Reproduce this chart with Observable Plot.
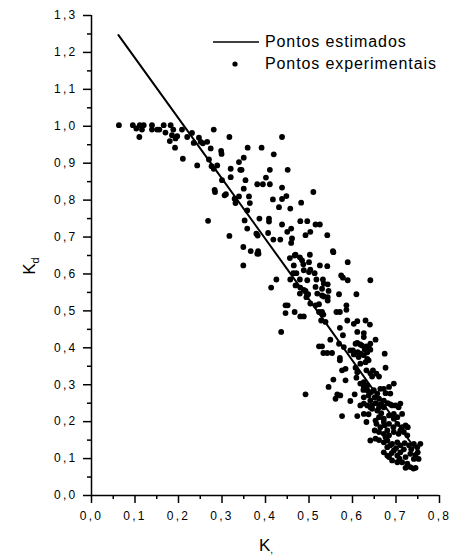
<!DOCTYPE html>
<html>
<head>
<meta charset="utf-8">
<script src="https://cdn.jsdelivr.net/npm/d3@7"></script>
<script src="https://cdn.jsdelivr.net/npm/@observablehq/plot@0.6"></script>
<style>
  body { margin: 0; background: #fff; }
  #chart svg g[aria-label$="tick label"] { letter-spacing: 2.3px; }
</style>
</head>
<body>
<div id="chart"></div>
<script>
// Tick values
const xTicks = [0, 0.1, 0.2, 0.3, 0.4, 0.5, 0.6, 0.7, 0.8];
const xMinor = [0.05, 0.15, 0.25, 0.35, 0.45, 0.55, 0.65, 0.75];
const yTicks = [0, 0.1, 0.2, 0.3, 0.4, 0.5, 0.6, 0.7, 0.8, 0.9, 1.0, 1.1, 1.2, 1.3];
const yMinor = [0.05, 0.15, 0.25, 0.35, 0.45, 0.55, 0.65, 0.75, 0.85, 0.95, 1.05, 1.15, 1.25];

// Series labels
const seriesNames = ["Pontos estimados", "Pontos experimentais"];

// Estimated points (line)
const estimatedX = [0.062, 0.30, 0.50, 0.742];
const estimatedY = [1.247, 0.858, 0.531, 0.130];

// Experimental points [Kr, Kd]
const experimental = [
[0.063,1.003],[0.095,1.003],[0.103,0.994],[0.111,1.003],[0.120,1.003],[0.110,0.971],[0.116,0.991],[0.139,1.003],[0.139,0.991],[0.151,0.991],[0.156,0.991],[0.166,1.003],[0.170,0.983],[0.182,1.003],[0.188,0.991],[0.185,0.976],[0.180,0.960],[0.193,0.967],[0.197,0.973],[0.192,0.942],[0.208,0.991],[0.220,0.971],[0.231,0.982],[0.235,0.955],[0.247,0.969],[0.251,0.958],[0.256,0.954],[0.266,0.958],[0.281,0.991],[0.274,0.940],[0.210,0.912],[0.243,0.894],[0.270,0.910],[0.276,0.892],[0.281,0.885],[0.289,0.894],[0.298,0.933],[0.299,0.925],[0.317,0.971],[0.359,0.942],[0.391,0.942],[0.419,0.924],[0.339,0.903],[0.350,0.915],[0.320,0.885],[0.342,0.882],[0.345,0.882],[0.410,0.882],[0.451,0.882],[0.320,0.862],[0.354,0.854],[0.401,0.861],[0.300,0.854],[0.381,0.843],[0.394,0.843],[0.410,0.843],[0.283,0.828],[0.284,0.822],[0.350,0.831],[0.306,0.813],[0.309,0.816],[0.329,0.804],[0.339,0.810],[0.331,0.792],[0.362,0.810],[0.364,0.792],[0.358,0.772],[0.417,0.802],[0.438,0.803],[0.431,0.781],[0.438,0.971],[0.438,0.834],[0.510,0.822],[0.448,0.811],[0.482,0.793],[0.457,0.777],[0.268,0.744],[0.352,0.745],[0.386,0.750],[0.408,0.750],[0.408,0.742],[0.358,0.723],[0.379,0.709],[0.317,0.703],[0.382,0.704],[0.406,0.711],[0.418,0.693],[0.349,0.673],[0.366,0.662],[0.383,0.662],[0.384,0.655],[0.349,0.623],[0.425,0.585],
[0.480,0.743],[0.496,0.743],[0.515,0.734],[0.525,0.734],[0.438,0.734],[0.459,0.723],[0.450,0.714],[0.503,0.714],[0.492,0.705],[0.434,0.693],[0.461,0.696],[0.459,0.684],[0.542,0.705],[0.555,0.662],[0.469,0.652],[0.456,0.643],[0.479,0.645],[0.484,0.637],[0.502,0.652],[0.589,0.632],[0.500,0.632],[0.525,0.623],[0.542,0.621],[0.465,0.623],[0.488,0.610],[0.503,0.612],[0.513,0.602],[0.471,0.602],[0.574,0.596],[0.578,0.590],[0.589,0.583],[0.641,0.583],[0.457,0.585],[0.479,0.585],[0.496,0.583],[0.517,0.585],[0.532,0.585],[0.534,0.574],[0.543,0.572],[0.480,0.563],[0.488,0.557],[0.515,0.565],[0.530,0.560],[0.413,0.563],[0.479,0.547],[0.494,0.537],[0.519,0.547],[0.534,0.539],[0.543,0.537],[0.569,0.545],[0.609,0.545],[0.381,0.655],[0.467,0.650],[0.556,0.659],[0.487,0.626],[0.464,0.602],[0.500,0.605],[0.469,0.569],[0.492,0.554],[0.545,0.554],[0.498,0.545],[0.530,0.542],[0.446,0.515],[0.451,0.515],[0.503,0.520],[0.515,0.515],[0.523,0.518],[0.543,0.528],[0.586,0.515],[0.586,0.503],[0.446,0.494],[0.467,0.497],[0.480,0.485],[0.488,0.485],[0.523,0.497],[0.530,0.497],[0.533,0.490],[0.563,0.497],[0.571,0.497],[0.528,0.474],[0.538,0.470],[0.588,0.474],[0.611,0.472],[0.630,0.474],[0.640,0.463],[0.603,0.465],[0.571,0.454],[0.436,0.443],[0.611,0.443],[0.626,0.440],[0.626,0.429],[0.578,0.434],[0.653,0.422],[0.549,0.422],[0.523,0.404],[0.530,0.404],[0.569,0.411],[0.580,0.402],[0.611,0.413],[0.622,0.406],[0.637,0.402],[0.607,0.411],[0.618,0.409],[0.632,0.404],[0.641,0.411],[0.533,0.386],[0.542,0.386],[0.553,0.386],[0.595,0.393],[0.601,0.393],[0.612,0.388],[0.618,0.384],[0.628,0.395],[0.634,0.388],[0.641,0.395],[0.674,0.384],[0.603,0.382],[0.614,0.375],[0.626,0.380],[0.634,0.370],[0.637,0.366],[0.571,0.373],[0.571,0.366],[0.584,0.343],[0.576,0.339],[0.607,0.346],[0.611,0.334],[0.618,0.357],[0.630,0.361],[0.632,0.339],[0.641,0.331],[0.647,0.339],[0.655,0.330],[0.661,0.322],[0.645,0.322],[0.676,0.346],[0.556,0.314],[0.584,0.312],[0.609,0.319],[0.618,0.303],[0.626,0.307],[0.634,0.298],[0.545,0.294],[0.695,0.303],[0.625,0.286],[0.634,0.285],[0.643,0.280],[0.649,0.285],[0.657,0.276],[0.664,0.289],[0.672,0.289],[0.676,0.277],[0.626,0.294],[0.684,0.294],[0.687,0.276],[0.492,0.274],[0.565,0.274],[0.561,0.262],[0.572,0.271],[0.605,0.274],[0.626,0.266],[0.637,0.271],[0.651,0.266],[0.661,0.262],[0.672,0.257],[0.641,0.257],[0.595,0.256],[0.626,0.249],[0.634,0.244],[0.641,0.239],[0.653,0.250],[0.664,0.247],[0.681,0.250],[0.687,0.247],[0.699,0.244],[0.706,0.239],[0.710,0.249],[0.618,0.244],[0.645,0.244],[0.661,0.239],[0.672,0.239],[0.691,0.244],
[0.576,0.215],[0.611,0.215],[0.637,0.220],[0.632,0.199],[0.657,0.230],[0.666,0.223],[0.661,0.212],[0.672,0.208],[0.684,0.217],[0.695,0.221],[0.703,0.212],[0.714,0.221],[0.626,0.221],[0.645,0.235],[0.653,0.203],[0.672,0.199],[0.695,0.208],[0.655,0.194],[0.664,0.185],[0.674,0.190],[0.684,0.194],[0.694,0.185],[0.703,0.194],[0.714,0.185],[0.722,0.190],[0.727,0.185],[0.651,0.176],[0.661,0.172],[0.672,0.167],[0.684,0.163],[0.695,0.172],[0.706,0.167],[0.718,0.172],[0.726,0.163],[0.680,0.176],[0.710,0.176],[0.661,0.150],[0.672,0.144],[0.680,0.149],[0.691,0.140],[0.703,0.144],[0.710,0.136],[0.720,0.142],[0.730,0.136],[0.741,0.140],[0.756,0.140],[0.749,0.131],[0.641,0.149],[0.653,0.154],[0.676,0.158],[0.695,0.122],[0.703,0.108],[0.710,0.117],[0.722,0.104],[0.733,0.113],[0.741,0.099],[0.750,0.117],[0.752,0.099],[0.684,0.104],[0.691,0.095],[0.703,0.090],[0.714,0.090],[0.726,0.086],[0.733,0.077],[0.745,0.075],[0.722,0.075],[0.740,0.073],[0.672,0.117],[0.680,0.131],[0.687,0.136],[0.680,0.108],[0.700,0.128],[0.718,0.125],[0.735,0.125],[0.745,0.110],[0.708,0.100],[0.690,0.115]
];

const estimated = estimatedX.map((x, i) => ({x, y: estimatedY[i]}));
const points = experimental.map(([x, y]) => ({x, y}));
const fmt = d => d.toFixed(1).replace(".", ",");
const FONT = "'Liberation Sans', Arial, Helvetica, sans-serif";

const chart = Plot.plot({
  width: 450,
  height: 557,
  marginLeft: 91,
  marginRight: 11,
  marginTop: 15,
  marginBottom: 62,
  style: {fontFamily: FONT, fontSize: "12px", color: "#000", background: "#fff"},
  x: {domain: [0, 0.8]},
  y: {domain: [0, 1.3]},
  marks: [
    Plot.axisX(xTicks, {tickSize: 8, tickPadding: 8, tickFormat: fmt, label: null, strokeWidth: 1.5, fontSize: 12}),
    Plot.axisX(xMinor, {tickSize: 4, tickFormat: () => "", label: null, strokeWidth: 1.5}),
    Plot.axisY(yTicks, {tickSize: 8, tickPadding: 6, tickFormat: fmt, label: null, strokeWidth: 1.5, fontSize: 12}),
    Plot.axisY(yMinor, {tickSize: 4, tickFormat: () => "", label: null, strokeWidth: 1.5}),
    Plot.ruleX([0], {strokeWidth: 1.5}),
    Plot.ruleY([0], {strokeWidth: 1.5}),
    Plot.dot(points, {x: "x", y: "y", r: 2.9, fill: "#000", stroke: "none"}),
    Plot.line(estimated, {x: "x", y: "y", stroke: "#000", strokeWidth: 2})
  ]
});

const svg = d3.select(chart);
// Legend
const lg = svg.append("g").attr("font-family", FONT).attr("font-size", 16)
  .attr("letter-spacing", "0.9px").attr("text-anchor", "start");
lg.append("line").attr("x1", 213).attr("x2", 259).attr("y1", 42).attr("y2", 42).attr("stroke", "#000").attr("stroke-width", 1.5);
lg.append("text").attr("x", 265).attr("y", 47).text(seriesNames[0]);
lg.append("circle").attr("cx", 235).attr("cy", 64).attr("r", 2.6).attr("fill", "#000");
lg.append("text").attr("x", 265).attr("y", 69).text(seriesNames[1]);

// Axis labels
const xl = svg.append("text").attr("font-family", FONT).attr("font-size", 17)
  .attr("text-anchor", "start").attr("x", 259).attr("y", 551);
xl.append("tspan").text("K");
xl.append("tspan").attr("font-size", 10).attr("dy", 2).text(",");

const yl = svg.append("text").attr("font-family", FONT).attr("font-size", 17)
  .attr("transform", "translate(35,266) rotate(-90)").attr("text-anchor", "middle");
yl.append("tspan").text("K");
yl.append("tspan").attr("font-size", 11).attr("dy", 4).text("d");

document.getElementById("chart").appendChild(chart);
</script>
</body>
</html>
